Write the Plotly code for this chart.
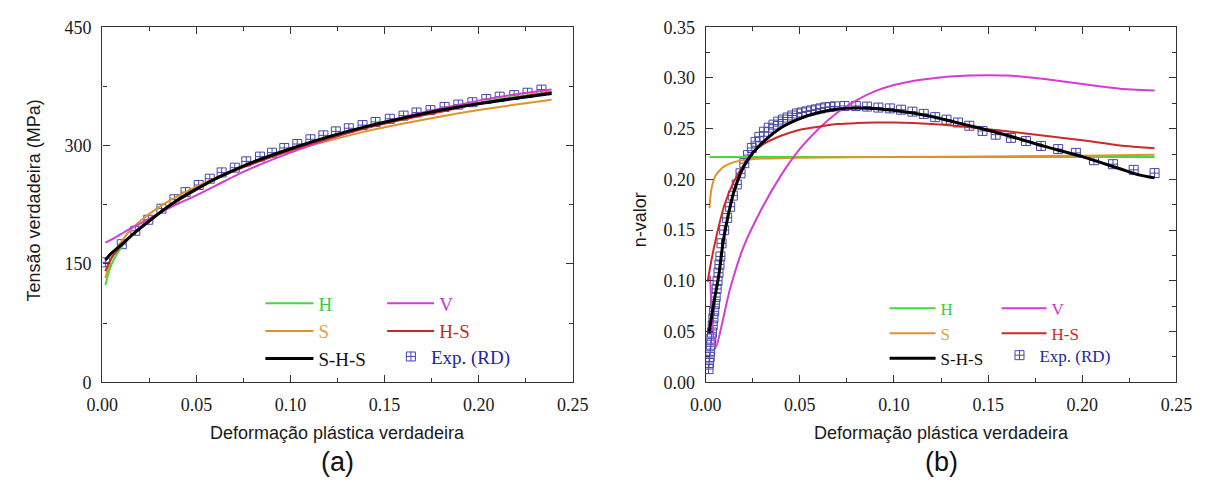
import plotly.graph_objects as go

W, H = 1219, 492

# ---------------- Panel (a): true stress vs true plastic strain ----------------
strain_a_exp = [0.0016, 0.0103, 0.0175, 0.0244, 0.0314, 0.0383, 0.0442, 0.0512, 0.0571, 0.0634,
                0.0704, 0.0765, 0.0838, 0.0902, 0.0967, 0.1036, 0.1106, 0.1175, 0.1241, 0.1310,
                0.1383, 0.1452, 0.1528, 0.1601, 0.1670, 0.1744, 0.1819, 0.1892, 0.1967, 0.2041,
                0.2112, 0.2189, 0.2260, 0.2334]
stress_a_exp = [152, 175, 192, 206, 220, 232, 241, 250, 258, 266,
                272, 280, 286, 291, 297, 302, 308, 313, 318, 322,
                326, 330, 334, 338, 342, 345, 349, 352, 355, 359,
                362, 364, 367, 371]

strain_a = [0.0016, 0.005, 0.01, 0.015, 0.02, 0.03, 0.04, 0.05, 0.06, 0.07, 0.08,
            0.10, 0.12, 0.14, 0.16, 0.18, 0.20, 0.22, 0.2388]
stress_a_H = [123, 150, 171, 185, 196, 214, 230, 244, 257, 268, 278, 295, 310, 323, 334, 344, 354, 362, 368]
stress_a_S = [132, 158, 178, 193, 204, 222, 236, 248, 259, 269, 278, 293, 306, 318, 328, 337, 345, 352, 358]
stress_a_V = [177, 181, 188, 195, 201, 214, 226, 237, 249, 261, 272, 291, 308, 323, 336, 347, 357, 365, 371]
stress_a_HS = [141, 158, 173, 185, 196, 214, 230, 244, 257, 268, 277, 294, 309, 322, 333, 343, 353, 361, 368]
stress_a_SHS = [155, 164, 174, 185, 195, 214, 231, 245, 258, 269, 279, 296, 311, 324, 335, 345, 353, 360, 366]

# ---------------- Panel (b): n-value vs true plastic strain ----------------
strain_b_exp = [0.0015, 0.0018, 0.0021, 0.0024, 0.0027, 0.0030, 0.0033, 0.0037, 0.0041, 0.0045,
                0.0049, 0.0053, 0.0058, 0.0063, 0.0068, 0.0073, 0.0078, 0.0084, 0.0098, 0.0114,
                0.0130, 0.0144, 0.0165, 0.0185, 0.0205, 0.0225, 0.0245, 0.0265, 0.0285, 0.0310,
                0.0335, 0.0360, 0.0385, 0.0410, 0.0435, 0.0460, 0.0485, 0.0510, 0.0535, 0.0560,
                0.0585, 0.0610, 0.0635, 0.0660, 0.0687, 0.0737, 0.0797, 0.0857, 0.0917, 0.0978,
                0.1038, 0.1098, 0.1158, 0.1219, 0.1279, 0.1340, 0.1400, 0.1470, 0.1540, 0.1621,
                0.1701, 0.1781, 0.1872, 0.1966, 0.2062, 0.2163, 0.2273, 0.2384]
n_b_exp = [0.013, 0.019, 0.025, 0.031, 0.037, 0.043, 0.049, 0.056, 0.063, 0.070,
           0.077, 0.084, 0.092, 0.100, 0.108, 0.116, 0.124, 0.137, 0.150, 0.162,
           0.173, 0.184, 0.195, 0.206, 0.216, 0.224, 0.231, 0.237, 0.242, 0.247,
           0.251, 0.254, 0.257, 0.259, 0.261, 0.263, 0.265, 0.266, 0.267, 0.268,
           0.269, 0.270, 0.271, 0.2715, 0.272, 0.2724, 0.2724, 0.2718, 0.2708, 0.270,
           0.2687, 0.2668, 0.2646, 0.2614, 0.2589, 0.2561, 0.2529, 0.2478, 0.2441, 0.2409,
           0.2378, 0.233, 0.2299, 0.2261, 0.2189, 0.215, 0.2094, 0.2062]

strain_b_H = [0.002, 0.05, 0.10, 0.15, 0.20, 0.2384]
n_b_H = [0.222, 0.222, 0.222, 0.222, 0.222, 0.222]

strain_b_S = [0.002, 0.003, 0.005, 0.0075, 0.01, 0.015, 0.02, 0.03, 0.05, 0.10, 0.15, 0.20, 0.2384]
n_b_S = [0.1715, 0.19, 0.203, 0.209, 0.213, 0.217, 0.219, 0.2205, 0.2214, 0.222, 0.2226, 0.2234, 0.2242]

strain_b_V = [0.0023, 0.0052, 0.0129, 0.02, 0.03, 0.04, 0.05, 0.06, 0.07, 0.08, 0.09, 0.10,
              0.11, 0.12, 0.13, 0.14, 0.15, 0.16, 0.17, 0.18, 0.19, 0.20, 0.21, 0.22, 0.2384]
n_b_V = [0.105, 0.034, 0.092, 0.133, 0.172, 0.204, 0.230, 0.250, 0.266, 0.278, 0.287, 0.293,
         0.297, 0.2995, 0.3015, 0.3025, 0.3028, 0.3025, 0.301, 0.299, 0.2965, 0.294, 0.2915, 0.2895, 0.2876]

strain_b_HS = [0.001, 0.003, 0.005, 0.0075, 0.01, 0.015, 0.02, 0.025, 0.03, 0.04, 0.05, 0.06,
               0.07, 0.08, 0.09, 0.10, 0.12, 0.14, 0.16, 0.18, 0.20, 0.22, 0.2384]
n_b_HS = [0.099, 0.120, 0.138, 0.158, 0.175, 0.198, 0.214, 0.226, 0.234, 0.243, 0.249, 0.252,
          0.2545, 0.2555, 0.256, 0.256, 0.2545, 0.2515, 0.2475, 0.243, 0.2385, 0.2335, 0.2308]

strain_b_SHS = [0.0018, 0.004, 0.0069, 0.0094, 0.012, 0.015, 0.02, 0.025, 0.03, 0.04, 0.05, 0.06,
                0.07, 0.08, 0.09, 0.10, 0.11, 0.12, 0.13, 0.14, 0.15, 0.16, 0.17, 0.18, 0.19,
                0.20, 0.21, 0.22, 0.23, 0.2384]
n_b_SHS = [0.048, 0.075, 0.105, 0.140, 0.165, 0.188, 0.212, 0.226, 0.236, 0.251, 0.260, 0.266,
           0.2695, 0.2705, 0.270, 0.268, 0.2655, 0.262, 0.2575, 0.253, 0.2485, 0.2435, 0.238, 0.2325, 0.2275,
           0.2225, 0.2165, 0.2105, 0.2045, 0.2015]

# ---------------- styling ----------------
C_H, C_S, C_V, C_HS, C_SHS, C_EXP = "#3fdc3f", "#e0922e", "#d43cd4", "#cc2a2a", "#000000", "#4646a8"
T_H, T_S, T_V, T_HS, T_SHS, T_EXP = "#3ccc3c", "#e3a050", "#cc3acc", "#c82a2a", "#111111", "#2424a0"

def lab(txt, col):
    return f"<span style='color:{col}'>{txt}</span>"

fig = go.Figure()

def add_panel(xa, ya, lg3, xexp, yexp, curves):
    fig.add_trace(go.Scatter(x=xexp, y=yexp, mode="markers", name=lab("Exp. (RD)", T_EXP),
                             xaxis=xa, yaxis=ya, legend=lg3,
                             marker=dict(symbol="square-cross-open", size=9, color=C_EXP,
                                         line=dict(width=1, color=C_EXP))))
    for (xs, ys, name, col, tcol, lg, w, smooth) in curves:
        fig.add_trace(go.Scatter(x=xs, y=ys, mode="lines", name=lab(name, tcol),
                                 xaxis=xa, yaxis=ya, legend=lg,
                                 line=dict(color=col, width=w, shape="spline", smoothing=smooth)))

add_panel("x", "y", "legend3", strain_a_exp, stress_a_exp, [
    (strain_a, stress_a_H, "H", C_H, T_H, "legend", 2, 1.0),
    (strain_a, stress_a_S, "S", C_S, T_S, "legend", 2, 1.0),
    (strain_a, stress_a_V, "V", C_V, T_V, "legend2", 2, 1.0),
    (strain_a, stress_a_HS, "H-S", C_HS, T_HS, "legend2", 2, 1.0),
    (strain_a, stress_a_SHS, "S-H-S", C_SHS, T_SHS, "legend", 3, 1.0),
])

add_panel("x2", "y2", "legend6", strain_b_exp, n_b_exp, [
    (strain_b_H, n_b_H, "H", C_H, T_H, "legend4", 2, 1.0),
    (strain_b_S, n_b_S, "S", C_S, T_S, "legend4", 2, 0.8),
    (strain_b_V, n_b_V, "V", C_V, T_V, "legend5", 2, 0.6),
    (strain_b_HS, n_b_HS, "H-S", C_HS, T_HS, "legend5", 2, 0.8),
    (strain_b_SHS, n_b_SHS, "S-H-S", C_SHS, T_SHS, "legend4", 3, 0.8),
])

def px(v):
    return v / W
def py(v):
    return 1 - v / H

dom_a = [px(88.7), px(571.7)]
dom_b = [px(708.3), px(1191.7)]
dom_y = [py(388), py(18)]

SERIF = "Liberation Serif"
SANS = "Liberation Sans"
tickfont = dict(family=SERIF, size=18, color="#1a1a1a")
axis_common = dict(showline=True, linecolor="#333333", linewidth=1.3, mirror="allticks",
                   ticks="inside", ticklen=7, tickwidth=1.3, tickcolor="#333333",
                   showgrid=False, zeroline=False, tickfont=tickfont, ticklabelstandoff=6)
minor_common = dict(ticks="inside", ticklen=4, tickcolor="#333333", tickwidth=1.3, showgrid=False)

fig.update_layout(
    width=W, height=H, margin=dict(l=0, r=0, t=0, b=0),
    paper_bgcolor="white", plot_bgcolor="white", showlegend=True,
    xaxis=dict(domain=dom_a, anchor="y", range=[0, 0.25], dtick=0.05, tick0=0, tickformat=".2f",
               minor=dict(dtick=0.025, **minor_common), **axis_common),
    yaxis=dict(domain=dom_y, anchor="x", range=[0, 450], dtick=150, tick0=0,
               minor=dict(dtick=75, **minor_common), **axis_common),
    xaxis2=dict(domain=dom_b, anchor="y2", range=[0, 0.25], dtick=0.05, tick0=0, tickformat=".2f",
                minor=dict(dtick=0.025, **minor_common), **axis_common),
    yaxis2=dict(domain=dom_y, anchor="x2", range=[0, 0.35], dtick=0.05, tick0=0, tickformat=".2f",
                minor=dict(dtick=0.025, **minor_common), **axis_common),
)

legfont_a = dict(family=SERIF, size=19, color="#111111")
legfont_b = dict(family=SERIF, size=17, color="#111111")
leg_common = dict(bgcolor="rgba(0,0,0,0)", borderwidth=0, xanchor="left", yanchor="top",
                  orientation="v", tracegroupgap=0)

fig.update_layout(
    legend=dict(x=px(251), y=py(286), font=legfont_a, itemwidth=48, **leg_common),
    legend2=dict(x=px(376), y=py(286), font=legfont_a, itemwidth=47, **leg_common),
    legend3=dict(x=px(385), y=py(341.5), font=legfont_a, **leg_common),
    legend4=dict(x=px(892), y=py(292.5), font=legfont_b, itemwidth=46, **leg_common),
    legend5=dict(x=px(1007), y=py(292.5), font=legfont_b, itemwidth=45, **leg_common),
    legend6=dict(x=px(1010), y=py(341.5), font=legfont_b, **leg_common),
)

title_font = dict(family=SANS, size=18, color="#1a1a1a")
lab_font = dict(family=SANS, size=27, color="#111111")
ann = [
    dict(x=px(330), y=py(441), text="Deformação plástica verdadeira", font=title_font),
    dict(x=px(950), y=py(441), text="Deformação plástica verdadeira", font=title_font),
    dict(x=px(18), y=py(199), text="Tensão verdadeira (MPa)", font=title_font, textangle=-90),
    dict(x=px(641), y=py(219), text="n-valor", font=title_font, textangle=-90),
    dict(x=px(330), y=py(471), text="(a)", font=lab_font),
    dict(x=px(950), y=py(471), text="(b)", font=lab_font),
]
for a in ann:
    fig.add_annotation(xref="paper", yref="paper", showarrow=False, xanchor="center", yanchor="middle", **a)

fig.write_html("out.html")
